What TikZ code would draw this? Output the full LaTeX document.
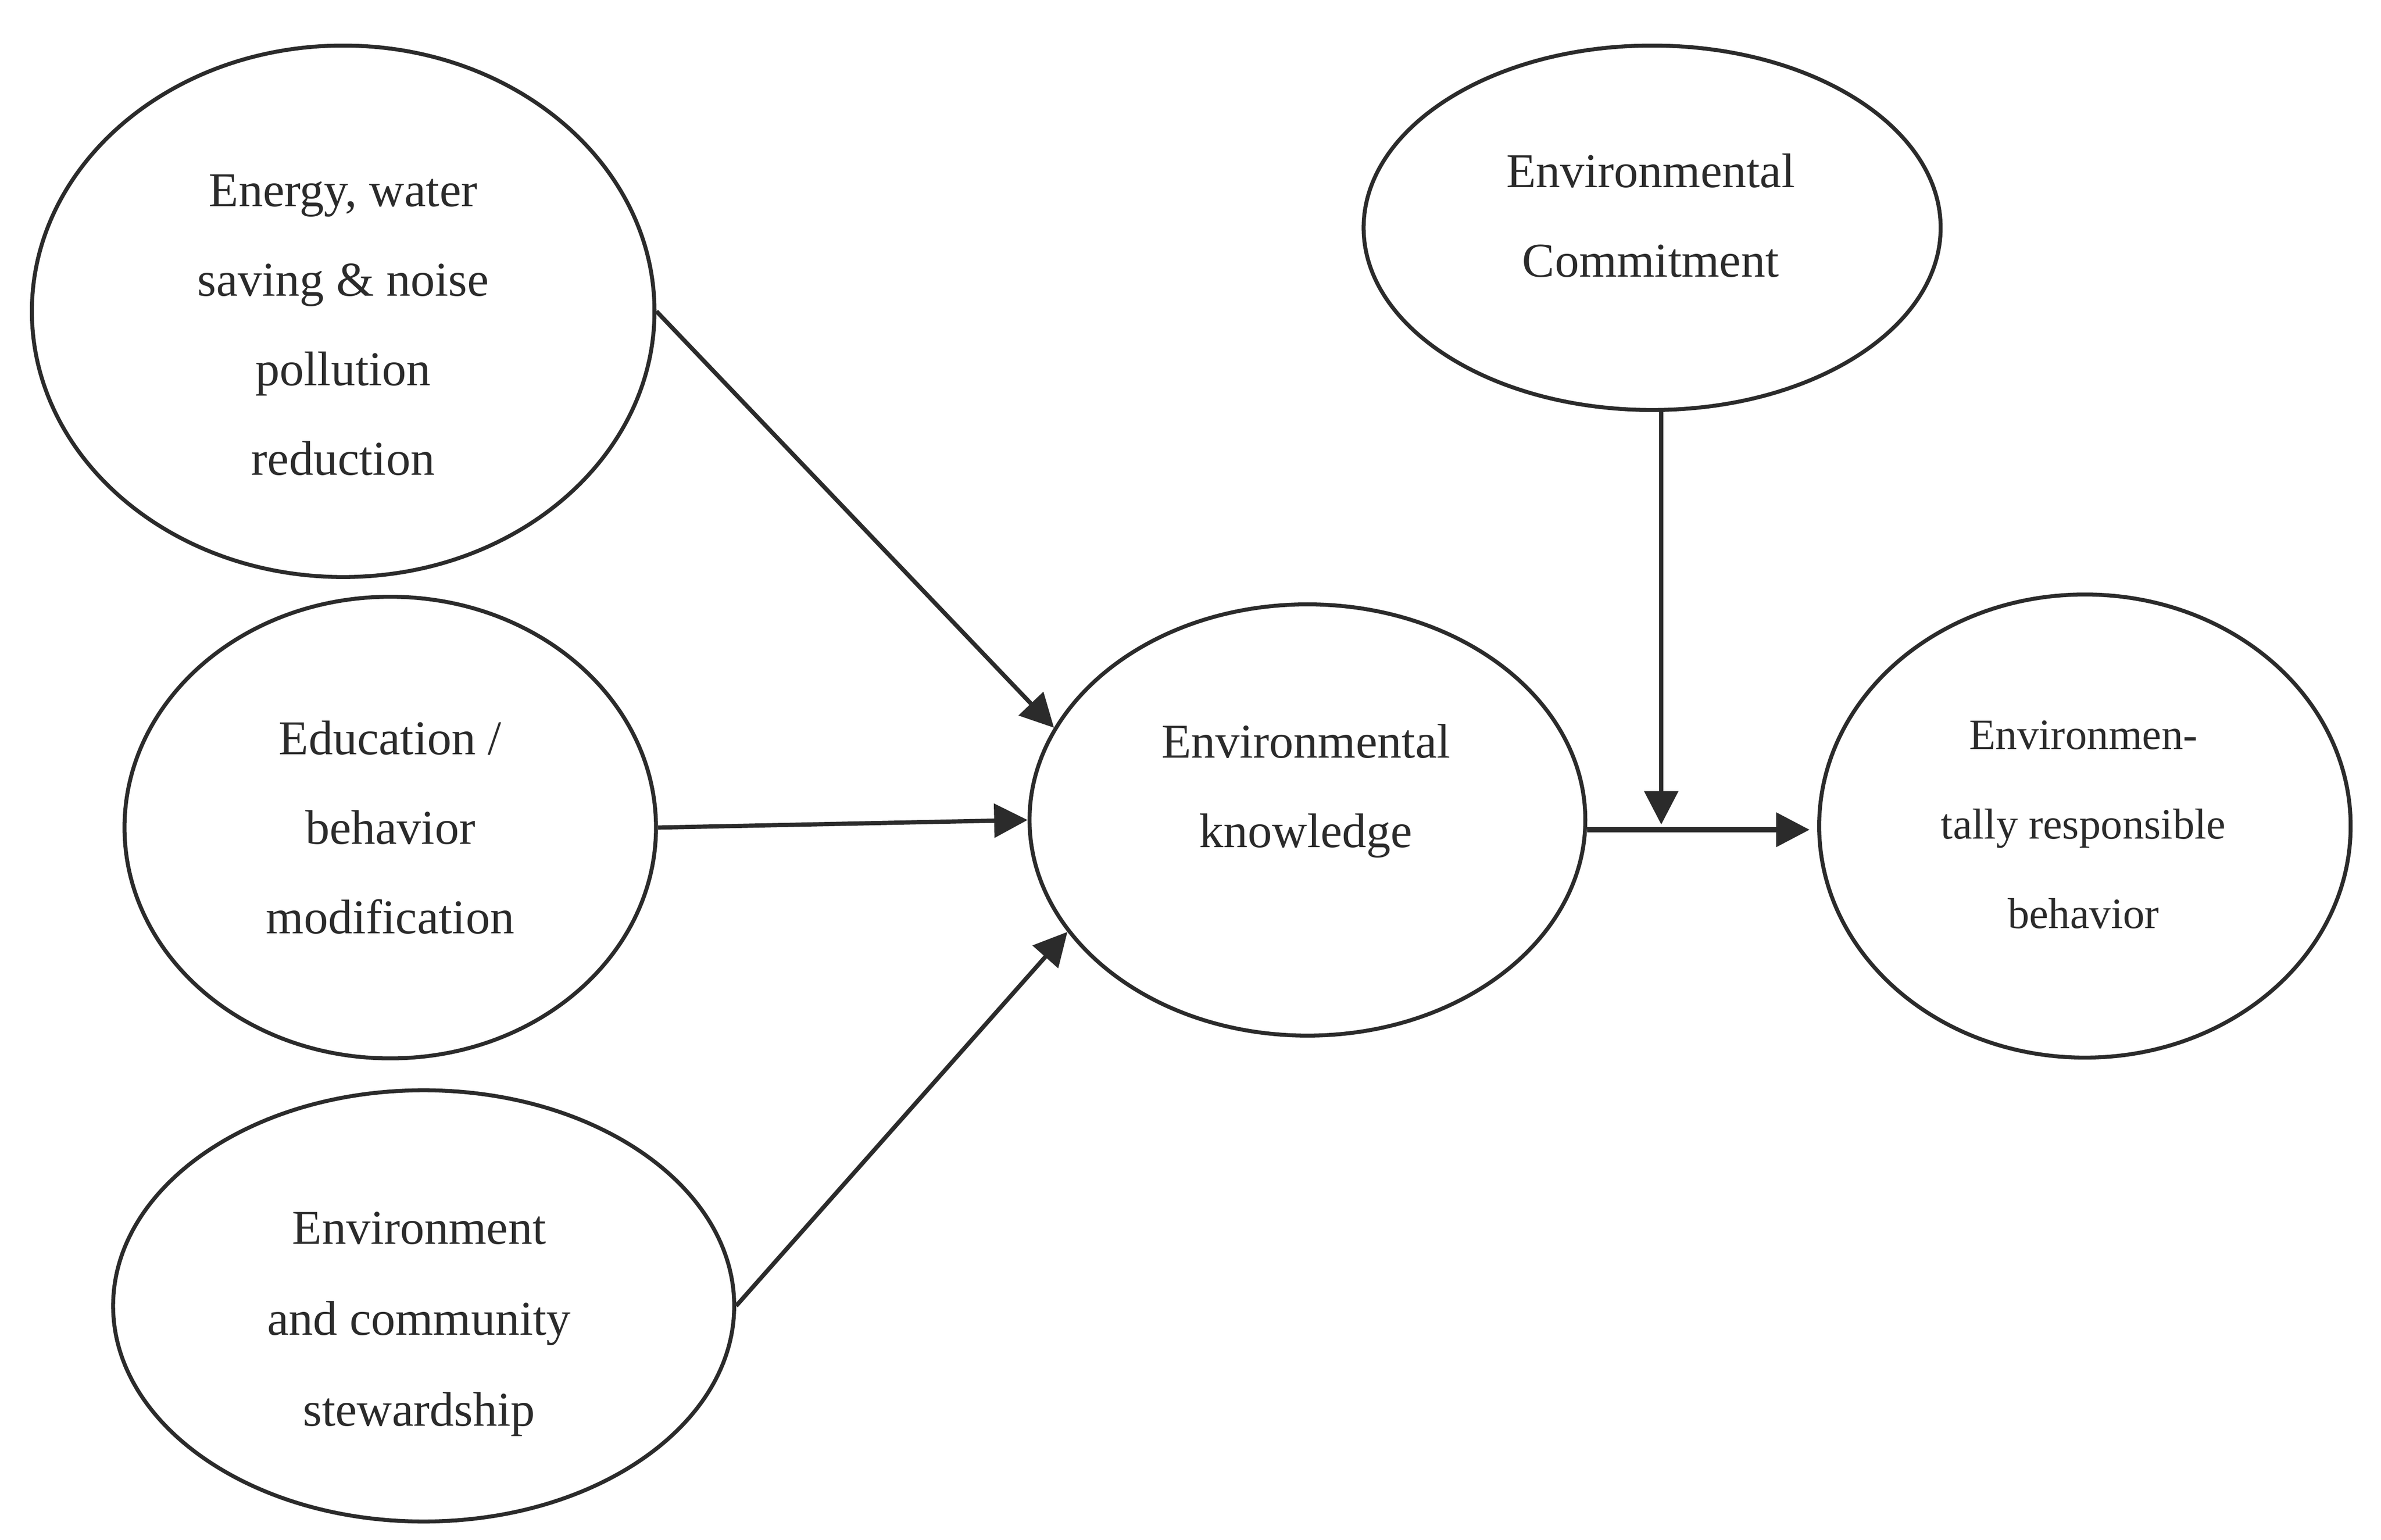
\documentclass[tikz,border=0pt]{standalone}
\usepackage{fontspec}
\setmainfont{Liberation Serif}
\usetikzlibrary{arrows.meta,shapes.geometric}
\definecolor{ink}{HTML}{2B2B2B}
\begin{document}
\begin{tikzpicture}[x=1pt,y=-1pt,
  oval/.style={draw=ink, line width=2.6pt, ellipse, inner sep=0pt},
  lbl/.style={text=ink, align=center, font=\fontsize{32}{59}\selectfont, inner sep=0pt},
  lblsm/.style={lbl, font=\fontsize{28.5}{59}\selectfont},
  conn/.style={draw=ink, line width=2.8pt, -{Triangle[length=22pt,width=22pt]}},
]
\useasboundingbox (0,0) rectangle (1568,1014);
% ellipses
\node[oval, minimum width=410pt, minimum height=350pt] (en) at (226,205) {};
\node[oval, minimum width=350pt, minimum height=304pt] (ed) at (257,545) {};
\node[oval, minimum width=409pt, minimum height=284pt] (st) at (279,860) {};
\node[oval, minimum width=366pt, minimum height=284pt] (kn) at (861,540) {};
\node[oval, minimum width=380pt, minimum height=240pt] (cm) at (1088,150) {};
\node[oval, minimum width=350pt, minimum height=305pt] (rb) at (1373,544) {};
% labels
\node[lbl] (enT) at (226,214) {Energy, water\\saving \& noise\\pollution\\reduction};
\node[lbl] (edT) at (257,545) {Education /\\behavior\\modification};
\node[lbl, font=\fontsize{32}{60}\selectfont] (stT) at (276,872) {Environment\\and community\\stewardship};
\node[lbl] (knT) at (860,521) {Environmental\\knowledge};
\node[lbl] (cmT) at (1087,142) {Environmental\\Commitment};
\node[lblsm] (rbT) at (1372,543) {Environmen-\\tally responsible\\behavior};
% connectors
\coordinate (jn) at (1094,543);
\draw[conn] (en.east) -- (kn.160);
\draw[conn] (ed.east) -- (kn.west);
\draw[conn] (st.east) -- (kn.205);
\draw[conn] (cm.south -| jn) -- (jn);
\draw[conn, line width=3.5pt, shorten >=5pt] (kn.-2.5) -- (kn.-2.5 -| rb.west);
\end{tikzpicture}
\end{document}
